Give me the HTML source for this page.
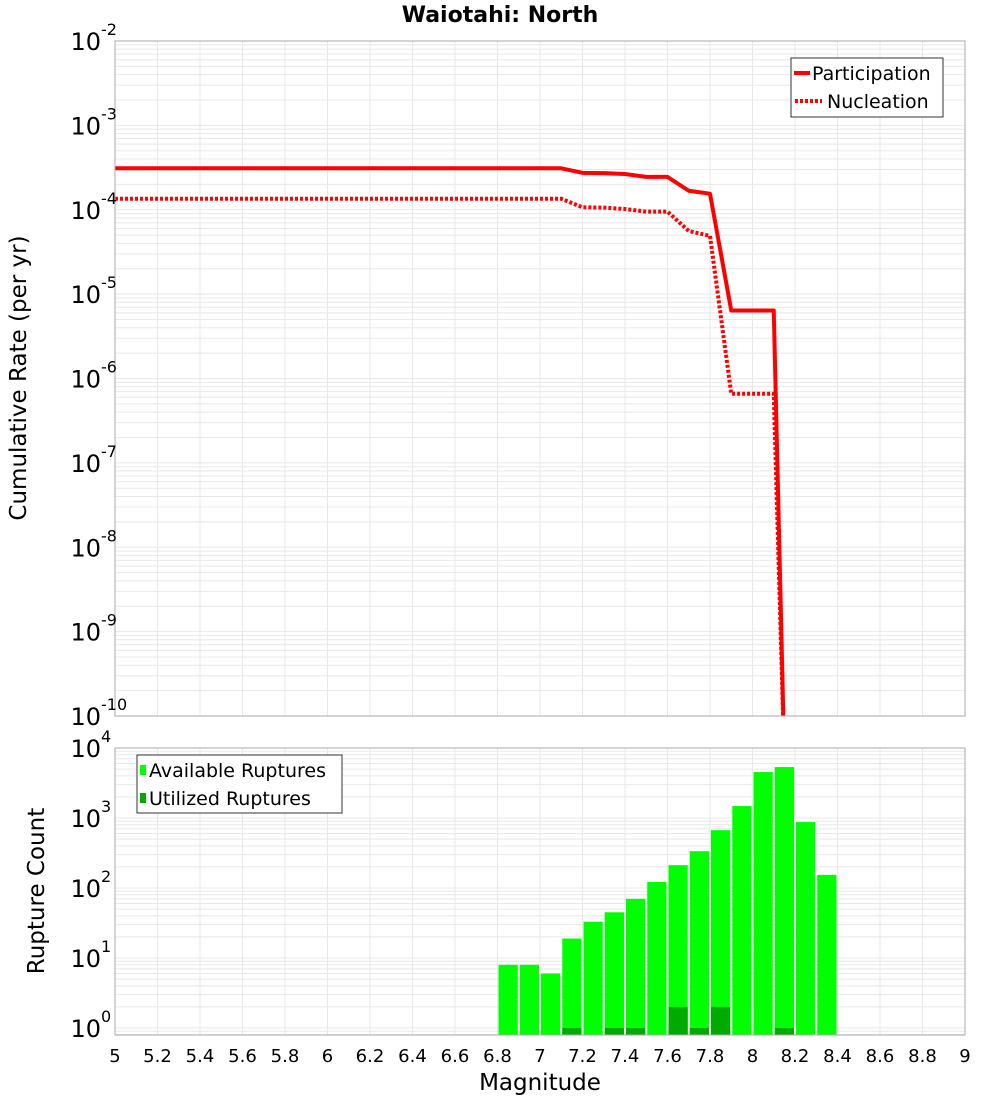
<!DOCTYPE html>
<html><head><meta charset="utf-8"><style>
body{margin:0;background:#fff;}
svg{display:block;font-family:"DejaVu Sans","Liberation Sans",sans-serif;}
</style></head><body>
<svg id="chart" width="1000" height="1100" viewBox="0 0 1000 1100">
<text x="500" y="22" text-anchor="middle" font-size="22" font-weight="bold">Waiotahi: North</text>
<g id="top"></g>
<g id="bot"></g>
<text transform="translate(26,378) rotate(-90)" text-anchor="middle" font-size="23">Cumulative Rate (per yr)</text>
<text transform="translate(44,891) rotate(-90)" text-anchor="middle" font-size="23">Rupture Count</text>
<text x="540" y="1090" text-anchor="middle" font-size="23">Magnitude</text>
</svg>
<script>
const partMags = [5.0,7.1,7.2,7.3,7.4,7.5,7.6,7.7,7.8,7.9,8.0,8.1,8.15];
const partRates = [3.1e-4,3.1e-4,2.74e-4,2.72e-4,2.65e-4,2.45e-4,2.45e-4,1.68e-4,1.55e-4,6.4e-6,6.4e-6,6.4e-6,3e-11];
const nuclMags = [5.0,7.1,7.2,7.3,7.4,7.5,7.6,7.7,7.8,7.9,8.0,8.1,8.15];
const nuclRates = [1.35e-4,1.35e-4,1.07e-4,1.06e-4,1.02e-4,9.5e-5,9.5e-5,5.6e-5,4.9e-5,6.6e-7,6.6e-7,6.6e-7,3e-11];
const binCenters = [6.85,6.95,7.05,7.15,7.25,7.35,7.45,7.55,7.65,7.75,7.85,7.95,8.05,8.15,8.25,8.35];
const availCounts = [8,8,6,19,33,45,70,122,212,336,670,1480,4530,5340,875,154];
const utilCounts = [0,0,0,1,0,1,1,0,2,1,2,0,0,1,0,0];
const xTicks = [5,5.2,5.4,5.6,5.8,6,6.2,6.4,6.6,6.8,7,7.2,7.4,7.6,7.8,8,8.2,8.4,8.6,8.8,9];
const xTickLabels = ["5","5.2","5.4","5.6","5.8","6","6.2","6.4","6.6","6.8","7","7.2","7.4","7.6","7.8","8","8.2","8.4","8.6","8.8","9"];
const topExps = [-2,-3,-4,-5,-6,-7,-8,-9,-10];
const botExps = [0,1,2,3,4];

(function(){
const NS="http://www.w3.org/2000/svg";
function mk(parent,tag,attrs){const e=document.createElementNS(NS,tag);for(const k in attrs)e.setAttribute(k,attrs[k]);parent.appendChild(e);return e;}
const L=115,R=965;
const xS=m=>L+(m-5)*(R-L)/4;
const T1=41,B1=716;
const yTop=v=>T1+(-2-Math.log10(v))*(B1-T1)/8;
const T2=748,B2=1035;
const yBot=v=>1028-Math.log10(v)*70;

const topG=document.getElementById('top'), botG=document.getElementById('bot');
const defs=mk(document.getElementById('chart'),'defs',{});
const c1=mk(defs,'clipPath',{id:'c1'});mk(c1,'rect',{x:L,y:T1,width:R-L,height:B1-T1});
const c2=mk(defs,'clipPath',{id:'c2'});mk(c2,'rect',{x:L,y:T2,width:R-L,height:B2-T2});

function grid(g,yFn,expLo,expHi,Tt,Bb,clip){
  const gg=mk(g,'g',{'clip-path':'url(#'+clip+')'});
  
  
  for(let e=expLo;e<=expHi;e++){for(let k=1;k<10;k++){const y=yFn(k*Math.pow(10,e));if(y<Tt-1||y>Bb+1)continue;
    mk(gg,'line',{x1:L,x2:R,y1:y,y2:y,stroke:'#e8e8e8','stroke-width':1});}}
  xTicks.forEach(m=>mk(gg,'line',{x1:xS(m),x2:xS(m),y1:Tt,y2:Bb,stroke:'#e8e8e8','stroke-width':1}));
}
grid(topG,yTop,-11,-2,T1,B1,'c1');
grid(botG,yBot,-1,4,T2,B2,'c2');

function line(mags,vals,dash,name){
  const p=mags.map((m,i)=>xS(m)+','+yTop(vals[i])).join(' ');
  const e=mk(topG,'polyline',{points:p,fill:'none',stroke:'#ff0000','stroke-width':4,'clip-path':'url(#c1)','stroke-linejoin':'round'});
  if(dash)e.setAttribute('stroke-dasharray','3,2');
  
  
}
line(nuclMags,nuclRates,true,'nucleation-line');
line(partMags,partRates,false,'participation-line');
mk(topG,'rect',{x:L,y:T1,width:R-L,height:B1-T1,fill:'none',stroke:'#aaaaaa','stroke-width':1});

binCenters.forEach((m,i)=>{
  const x0=xS(m-0.05)+1,w=xS(m+0.05)-xS(m-0.05)-2;
  const y=yBot(availCounts[i]);
  const b=mk(botG,'rect',{x:x0,y:y,width:w,height:B2-y,fill:'#00ff00','clip-path':'url(#c2)'});
  
  
  if(utilCounts[i]>0){const yu=yBot(utilCounts[i]);
    const u=mk(botG,'rect',{x:x0,y:yu,width:w,height:B2-yu,fill:'#00aa00','clip-path':'url(#c2)'});
    
    }
});
mk(botG,'rect',{x:L,y:T2,width:R-L,height:B2-T2,fill:'none',stroke:'#aaaaaa','stroke-width':1});

function ylab(g,y,e){const t=mk(g,'text',{x:101,y:y+9,'text-anchor':'end','font-size':24});t.textContent='10';
  
  const s=mk(g,'text',{x:101,y:y-6,'font-size':16});s.textContent=String(e);
  }
topExps.forEach(e=>ylab(topG,yTop(Math.pow(10,e)),e));
botExps.forEach(e=>ylab(botG,yBot(Math.pow(10,e)),e));
xTicks.forEach((m,i)=>{const t=mk(botG,'text',{x:xS(m),y:1062,'text-anchor':'middle','font-size':18});t.textContent=xTickLabels[i];
  });

const lg=mk(topG,'g',{});


mk(lg,'rect',{x:791,y:58,width:152,height:59,fill:'#fff',stroke:'#333','stroke-width':1});
mk(lg,'line',{x1:794,x2:810,y1:73,y2:73,stroke:'#f00','stroke-width':4});
mk(lg,'line',{x1:795,x2:822,y1:101,y2:101,stroke:'#f00','stroke-width':4,'stroke-dasharray':'3,2'});
let t=mk(lg,'text',{x:812,y:80,'font-size':19});t.textContent='Participation';
t=mk(lg,'text',{x:827,y:108,'font-size':19});t.textContent='Nucleation';
const lg2=mk(botG,'g',{});


mk(lg2,'rect',{x:137,y:755,width:205,height:58,fill:'#fff',stroke:'#333','stroke-width':1});
mk(lg2,'rect',{x:140,y:765,width:6,height:10,fill:'#00ff00'});
mk(lg2,'rect',{x:140,y:793,width:6,height:10,fill:'#00aa00'});
t=mk(lg2,'text',{x:149,y:777,'font-size':19});t.textContent='Available Ruptures';
t=mk(lg2,'text',{x:149,y:805,'font-size':19});t.textContent='Utilized Ruptures';
})();
</script>
</body></html>
